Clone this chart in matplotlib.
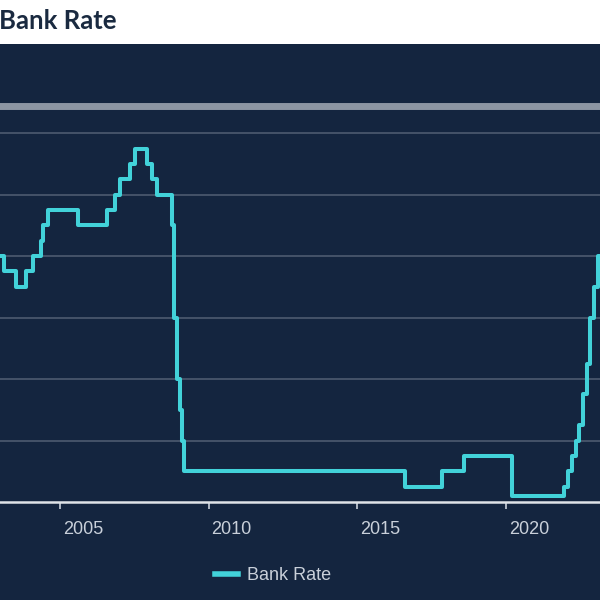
import numpy as np
import pandas as pd
import matplotlib
matplotlib.use("Agg")
import matplotlib.pyplot as plt
import matplotlib.transforms as mtransforms

# Bank Rate changes (effective date, rate %)
change_dates = [
    "2002-11-01", "2003-02-06", "2003-07-10", "2003-11-06", "2004-02-05",
    "2004-05-06", "2004-06-10", "2004-08-05", "2005-08-04", "2006-08-03",
    "2006-11-09", "2007-01-11", "2007-05-10", "2007-07-05", "2007-12-06",
    "2008-02-07", "2008-04-10", "2008-10-08", "2008-11-06", "2008-12-04",
    "2009-01-08", "2009-02-05", "2009-03-05", "2016-08-04", "2017-11-02",
    "2018-08-02", "2020-03-11", "2020-03-19", "2021-12-16", "2022-02-03",
    "2022-03-17", "2022-05-05", "2022-06-16", "2022-08-04", "2022-09-22",
    "2022-11-03", "2022-12-15", "2023-02-02", "2023-03-23", "2023-05-11",
]
rates = [
    4.0, 3.75, 3.5, 3.75, 4.0,
    4.25, 4.5, 4.75, 4.5, 4.75,
    5.0, 5.25, 5.5, 5.75, 5.5,
    5.25, 5.0, 4.5, 3.0, 2.0,
    1.5, 1.0, 0.5, 0.25, 0.5,
    0.75, 0.25, 0.1, 0.25, 0.5,
    0.75, 1.0, 1.25, 1.75, 2.25,
    3.0, 3.5, 4.0, 4.25, 4.5,
]
tick_years = [2005, 2010, 2015, 2020]

navy = "#14253f"
cyan = "#42d2d9"
label_col = "#c9d0da"

d = pd.to_datetime(change_dates)
x = d.year + (d.dayofyear - 1) / 365.25

fig = plt.figure(figsize=(6, 6), dpi=100)
fig.patch.set_facecolor(navy)

# white header strip with title
fig.patches.append(plt.Rectangle((0, 1 - 44 / 600), 1, 44 / 600, transform=fig.transFigure,
                                 facecolor="white", edgecolor="none", zorder=0))
fig.text(-0.002, 1 - 21 / 600, "Bank Rate", fontsize=18.5, fontweight="bold",
         family=["Lato", "DejaVu Sans"], color="#1a2a40", va="center", ha="left")

ax = fig.add_axes([0, 1 - 502 / 600, 1, (502 - 105.5) / 600])
ax.set_facecolor(navy)
ax.step(x, rates, where="post", color=cyan, lw=2.9, label="Bank Rate", zorder=3)

ax.set_xlim(2002.98, 2023.16)
ax.set_ylim(0, 6.45)
ax.set_yticks([1, 2, 3, 4, 5, 6])
ax.yaxis.grid(True, color="#4d5b70", lw=1.2)
ax.tick_params(axis="y", left=False, labelleft=False)

for s in ["left", "right"]:
    ax.spines[s].set_visible(False)
ax.spines["top"].set_color("#8d96a3")
ax.spines["top"].set_linewidth(5)
ax.spines["bottom"].set_color("#dfe3e8")
ax.spines["bottom"].set_linewidth(1.8)

ax.set_xticks(tick_years)
ax.set_xticklabels([str(y) for y in tick_years], fontsize=13,
                   family=["Liberation Sans", "DejaVu Sans"], color=label_col)
ax.tick_params(axis="x", length=5, width=1.2, color="#c9d0da", pad=9)
offset = mtransforms.ScaledTranslation(2 / 72, 0, fig.dpi_scale_trans)
for lab in ax.get_xticklabels():
    lab.set_horizontalalignment("left")
    lab.set_transform(lab.get_transform() + offset)

leg = fig.legend(loc="center", bbox_to_anchor=(273 / 600, 1 - 576 / 600), frameon=False,
                 prop={"family": ["Liberation Sans", "DejaVu Sans"], "size": 13},
                 handlelength=1.3, handletextpad=0.5)
for t in leg.get_texts():
    t.set_color(label_col)
for h in leg.get_lines():
    h.set_linewidth(4)

fig.savefig("out.png", dpi=100, facecolor=navy)
